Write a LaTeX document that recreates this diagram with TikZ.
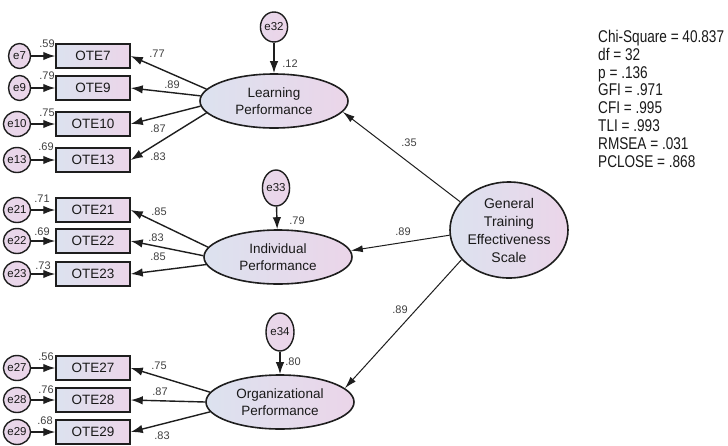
\documentclass[tikz,border=0pt]{standalone}
\usepackage{fontspec}
\setmainfont{Liberation Sans}
\newfontfamily\fitfont[FakeStretch=0.8]{Liberation Sans}
\usetikzlibrary{shapes.geometric, arrows.meta, positioning}
\definecolor{semblue}{HTML}{DCE2EF}
\definecolor{sempink}{HTML}{EBD5E9}
\definecolor{semline}{HTML}{1E1E1E}
\tikzstyle{arrow} = [draw=semline, line width=1.4pt, -{Latex[length=12pt,width=8.5pt]}]
\tikzstyle{patharrow} = [draw=semline, line width=1pt, -{Latex[length=12pt,width=7pt]}]
\tikzstyle{indicator} = [rectangle, minimum width=74pt, minimum height=24pt, text centered, draw=semline, line width=1.5pt, left color=semblue, right color=sempink, text=black!90, font=\fontsize{13.5}{15}\selectfont]
\tikzstyle{errterm} = [ellipse, minimum width=22pt, minimum height=25pt, inner sep=0pt, draw=semline, line width=1.4pt, left color=sempink!80!semblue, right color=sempink, text=black!90, font=\fontsize{11.5}{12}\selectfont]
\tikzstyle{latent} = [ellipse, minimum width=148pt, minimum height=54pt, inner sep=0pt, align=center, draw=semline, line width=1.6pt, left color=semblue, right color=sempink, text=black!90, font=\fontsize{13.5}{17}\selectfont]
\tikzstyle{coef} = [inner sep=0pt, text=black!75, font=\fontsize{11}{12}\selectfont]

\begin{document}
\begin{tikzpicture}[x=1pt, y=-1pt, node distance=24pt]
\useasboundingbox [fill=white] (0,0) rectangle (728,445);

% Learning Performance indicators
\node (ote7) [indicator] at (93,56) {OTE7};
\node (ote9) [indicator] at (93,88) {OTE9};
\node (ote10) [indicator] at (93,124) {OTE10};
\node (ote13) [indicator] at (93,160) {OTE13};
\node (e7) [errterm, left=of ote7] {e7};
\node (e9) [errterm, left=of ote9] {e9};
\node (e10) [errterm, left=of ote10] {e10};
\node (e13) [errterm, left=of ote13] {e13};

% Individual Performance indicators
\node (ote21) [indicator] at (93,210) {OTE21};
\node (ote22) [indicator] at (93,241) {OTE22};
\node (ote23) [indicator] at (93,274) {OTE23};
\node (e21) [errterm, left=of ote21] {e21};
\node (e22) [errterm, left=of ote22] {e22};
\node (e23) [errterm, left=of ote23] {e23};

% Organizational Performance indicators
\node (ote27) [indicator] at (93,368) {OTE27};
\node (ote28) [indicator] at (93,400) {OTE28};
\node (ote29) [indicator] at (93,432) {OTE29};
\node (e27) [errterm, left=of ote27] {e27};
\node (e28) [errterm, left=of ote28] {e28};
\node (e29) [errterm, left=of ote29] {e29};

% Latent factors
\node (lp) [latent] at (274,101) {Learning\\Performance};
\node (ip) [latent] at (278,257) {Individual\\Performance};
\node (op) [latent] at (280,402) {Organizational\\Performance};
\node (gtes) [latent, minimum width=118pt, minimum height=96pt, font=\fontsize{14}{18}\selectfont] at (509,230) {General\\Training\\Effectiveness\\Scale};
\node (e32) [errterm, minimum width=25pt, minimum height=30pt] at (274,27) {e32};
\node (e33) [errterm, minimum width=26pt, minimum height=36pt] at (276,188) {e33};
\node (e34) [errterm, minimum width=28pt, minimum height=38pt] at (280,332) {e34};

% Fit statistics
\node (fit) [anchor=north west, align=left, inner sep=0pt, text=black!90, font=\fitfont\fontsize{17}{17.8}\selectfont] at (598,30) {Chi-Square = 40.837\\df = 32\\p = .136\\GFI = .971\\CFI = .995\\TLI = .993\\RMSEA = .031\\PCLOSE = .868};

% Error terms
\draw [arrow] (e7) -- (ote7);
\draw [arrow] (e9) -- (ote9);
\draw [arrow] (e10) -- (ote10);
\draw [arrow] (e13) -- (ote13);
\draw [arrow] (e21) -- (ote21);
\draw [arrow] (e22) -- (ote22);
\draw [arrow] (e23) -- (ote23);
\draw [arrow] (e27) -- (ote27);
\draw [arrow] (e28) -- (ote28);
\draw [arrow] (e29) -- (ote29);
\draw [arrow] (e32) -- (lp);
\draw [arrow] (e33) -- (ip);
\draw [arrow] (e34) -- (op);

% Loadings
\draw [arrow] (lp.170) -- (ote7.east);
\draw [arrow] (lp.176) -- (ote9.east);
\draw [arrow] (lp.184) -- (ote10.east);
\draw [arrow] (lp.190) -- (ote13.east);
\draw [arrow] (ip.172) -- (ote21.east);
\draw [arrow] (ip.179) -- (ote22.east);
\draw [arrow] (ip.186) -- (ote23.east);
\draw [arrow] (op.172) -- (ote27.east);
\draw [arrow] (op.180) -- (ote28.east);
\draw [arrow] (op.188) -- (ote29.east);

% Structural paths
\draw [patharrow] (gtes.150) -- (lp.-9);
\draw [patharrow] (gtes.185) -- (ip.5);
\draw [patharrow] (gtes.212) -- (op.12);

% Coefficients
\node [coef] at (47,44) {.59};
\node [coef] at (47,76) {.79};
\node [coef] at (47,113) {.75};
\node [coef] at (46,147) {.69};
\node [coef] at (42,199) {.71};
\node [coef] at (42,232) {.69};
\node [coef] at (43,266) {.73};
\node [coef] at (46,357) {.56};
\node [coef] at (46,390) {.76};
\node [coef] at (45,421) {.68};
\node [coef] at (157,54) {.77};
\node [coef] at (172,85) {.89};
\node [coef] at (158,129) {.87};
\node [coef] at (158,157) {.83};
\node [coef] at (159,212) {.85};
\node [coef] at (156,238) {.83};
\node [coef] at (158,257) {.85};
\node [coef] at (159,366) {.75};
\node [coef] at (160,392) {.87};
\node [coef] at (162,436) {.83};
\node [coef] at (290,64) {.12};
\node [coef] at (297,221) {.79};
\node [coef] at (293,362) {.80};
\node [coef] at (409,143) {.35};
\node [coef] at (403,232) {.89};
\node [coef] at (400,310) {.89};

\end{tikzpicture}
\end{document}
